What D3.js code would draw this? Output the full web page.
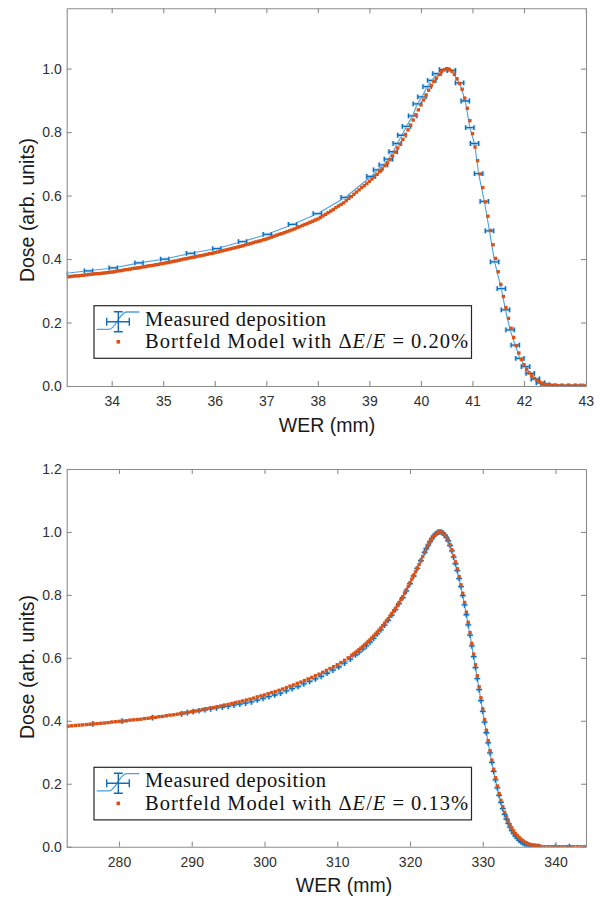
<!DOCTYPE html>
<html lang="en">
<head>
  <meta charset="UTF-8">
  <title>Bragg Peak: Measured vs Bortfeld</title>
  <script src="https://d3js.org/d3.v7.min.js"></script>
  <style>
    html, body { margin: 0; padding: 0; background: #fff; }
    svg { display: block; }
  </style>
</head>
<body>

<script>
"use strict";

/**
 * -----------------------------------------------------------------------
 *  Data
 * -----------------------------------------------------------------------
 */
const TOP_X_TICKS = [34, 35, 36, 37, 38, 39, 40, 41, 42, 43.2];
const TOP_X_LABELS = ["34", "35", "36", "37", "38", "39", "40", "41", "42", "43"];
const TOP_Y_TICKS = [0, 0.2, 0.4, 0.6, 0.8, 1.0];
const BOTTOM_X_TICKS = [280, 290, 300, 310, 320, 330, 340];
const BOTTOM_X_LABELS = ["280", "290", "300", "310", "320", "330", "340"];
const BOTTOM_Y_TICKS = [0, 0.2, 0.4, 0.6, 0.8, 1.0, 1.2];

const X_TITLE = "WER (mm)";
const Y_TITLE = "Dose (arb. units)";
const LEGEND_MEASURED = "Measured deposition";
const LEGEND_MODEL = "Bortfeld Model with ";
const TOP_SPREAD = "0.20%";
const BOTTOM_SPREAD = "0.13%";

// half widths of the error bars (mm, dose)
const TOP_ERR = [0.08, 0];
const BOTTOM_ERR = [0.4, 0.009];

// measured deposition, top panel [WER, dose]
const TOP_MEASURED = [
  [33.05,.354],[33.55,.363],[34.03,.372],[34.53,.388],[35.03,.400],[35.53,.418],
  [36.04,.433],[36.54,.455],[37.02,.478],[37.51,.509],[37.99,.543],[38.53,.594],
  [39.03,.660],[39.16,.681],[39.27,.697],[39.37,.715],[39.46,.738],[39.54,.764],
  [39.63,.790],[39.72,.818],[39.84,.851],[39.93,.889],[40.02,.911],[40.12,.943],
  [40.21,.963],[40.31,.984],[40.44,.997],[40.59,.994],[40.75,.955],[40.86,.898],
  [40.95,.814],[41.04,.764],[41.12,.669],[41.23,.582],[41.33,.489],[41.43,.391],
  [41.56,.307],[41.64,.240],[41.73,.177],[41.83,.129],[41.92,.087],[42.03,.061],
  [42.12,.040],[42.22,.022],[42.32,.010],[42.41,.004],[42.54,.001],[42.67,0],
  [42.80,0],[42.93,0],[43.06,0],[43.17,0],
];

// Bortfeld model, top panel
const TOP_MODEL = [
  [33.15,.344],[33.20,.345],[33.25,.346],[33.30,.347],[33.35,.347],[33.40,.348],[33.45,.349],[33.50,.350],
  [33.55,.351],[33.60,.352],[33.65,.353],[33.70,.354],[33.75,.354],[33.80,.355],[33.85,.356],[33.90,.357],
  [33.95,.358],[34.00,.359],[34.05,.360],[34.10,.362],[34.15,.363],[34.20,.364],[34.25,.366],[34.30,.367],
  [34.35,.368],[34.40,.370],[34.45,.371],[34.50,.372],[34.55,.373],[34.60,.375],[34.65,.376],[34.70,.378],
  [34.75,.379],[34.80,.380],[34.85,.382],[34.90,.383],[34.95,.385],[35.00,.386],[35.05,.388],[35.10,.389],
  [35.15,.391],[35.20,.393],[35.25,.394],[35.30,.396],[35.35,.398],[35.40,.400],[35.45,.401],[35.50,.403],
  [35.55,.405],[35.60,.406],[35.65,.408],[35.70,.410],[35.75,.411],[35.80,.413],[35.85,.415],[35.90,.417],
  [35.95,.418],[36.00,.420],[36.05,.422],[36.10,.424],[36.15,.426],[36.20,.428],[36.25,.430],[36.30,.432],
  [36.35,.434],[36.40,.436],[36.45,.438],[36.50,.440],[36.55,.442],[36.60,.445],[36.65,.447],[36.70,.449],
  [36.75,.452],[36.80,.454],[36.85,.456],[36.90,.458],[36.95,.461],[37.00,.463],[37.05,.466],[37.10,.469],
  [37.15,.472],[37.20,.475],[37.25,.478],[37.30,.480],[37.35,.483],[37.40,.486],[37.45,.489],[37.50,.492],
  [37.55,.495],[37.60,.499],[37.65,.502],[37.70,.506],[37.75,.509],[37.80,.512],[37.85,.516],[37.90,.519],
  [37.95,.523],[38.00,.526],[38.05,.531],[38.10,.536],[38.15,.541],[38.20,.546],[38.25,.551],[38.30,.556],
  [38.35,.562],[38.40,.567],[38.45,.572],[38.50,.577],[38.55,.584],[38.60,.591],[38.65,.597],[38.70,.604],
  [38.75,.611],[38.80,.618],[38.85,.625],[38.90,.631],[38.95,.638],[39.00,.645],[39.05,.652],[39.10,.660],
  [39.15,.667],[39.20,.675],[39.25,.684],[39.30,.694],[39.35,.703],[39.40,.713],[39.45,.725],[39.50,.737],
  [39.55,.750],[39.60,.762],[39.65,.777],[39.70,.792],[39.75,.807],[39.80,.822],[39.85,.838],[39.90,.854],
  [39.95,.870],[40.00,.886],[40.05,.901],[40.10,.917],[40.15,.932],[40.20,.947],[40.25,.959],[40.30,.970],
  [40.35,.981],[40.40,.990],[40.45,.996],[40.50,1.000],[40.55,.998],[40.60,.992],[40.65,.982],[40.70,.968],
  [40.75,.953],[40.80,.935],[40.85,.907],[40.90,.875],[40.95,.836],[41.00,.795],[41.05,.753],[41.10,.710],
  [41.15,.668],[41.20,.625],[41.25,.580],[41.30,.535],[41.35,.490],[41.40,.445],[41.45,.402],[41.50,.360],
  [41.55,.320],[41.60,.282],[41.65,.247],[41.70,.213],[41.75,.182],[41.80,.153],[41.85,.127],[41.90,.104],
  [41.95,.084],[42.00,.067],[42.05,.053],[42.10,.041],[42.15,.032],[42.20,.024],[42.25,.018],[42.30,.013],
  [42.35,.009],[42.40,.006],[42.45,.004],[42.50,.003],[42.55,.002],[42.60,.001],[42.65,.001],[42.70,0],
  [42.75,0],[42.80,0],[42.85,0],[42.90,0],[42.95,0],[43.00,0],[43.05,0],[43.10,0],[43.15,0],[43.20,0],
];

// measured deposition, bottom panel
const BOTTOM_MEASURED = [
  [276.4,.390],[280.4,.399],[284.6,.410],[288.6,.422],[289.4,.426],[290.2,.429],[291.0,.432],
  [291.8,.435],[292.6,.438],[293.4,.441],[294.2,.443],[295.0,.446],[295.8,.450],[296.6,.453],
  [297.4,.456],[298.2,.460],[299.0,.466],[299.8,.471],[300.6,.477],[301.4,.482],[302.2,.488],
  [303.0,.495],[303.8,.502],[304.6,.509],[305.4,.517],[306.2,.525],[307.0,.533],[307.8,.541],
  [308.6,.551],[309.4,.561],[310.2,.571],[311.0,.583],[311.8,.596],[312.5,.609],[313.0,.618],
  [313.5,.628],[314.0,.638],[314.5,.650],[315.0,.662],[315.5,.676],[316.0,.689],[316.5,.704],
  [317.0,.719],[317.5,.736],[318.0,.753],[318.5,.772],[319.0,.791],[319.5,.813],[320.0,.836],
  [320.5,.860],[321.0,.884],[321.5,.909],[322.0,.935],[322.25,.947],[322.5,.958],[322.75,.969],
  [323.0,.979],[323.25,.987],[323.5,.993],[323.75,.998],[324.0,1.000],[324.25,1.000],[324.5,.997],
  [324.75,.991],[325.0,.983],[325.25,.972],[325.5,.957],[325.75,.940],[326.0,.920],[326.25,.899],
  [326.5,.877],[326.75,.852],[327.0,.826],[327.25,.798],[327.5,.768],[327.75,.737],[328.0,.705],
  [328.25,.672],[328.5,.638],[328.75,.604],[329.0,.569],[329.25,.534],[329.5,.499],[329.75,.464],
  [330.0,.430],[330.25,.396],[330.5,.362],[330.75,.330],[331.0,.298],[331.25,.268],[331.5,.239],
  [331.75,.212],[332.0,.187],[332.25,.163],[332.5,.141],[332.75,.121],[333.0,.103],[333.25,.088],
  [333.5,.074],[333.75,.062],[334.0,.051],[334.25,.042],[334.5,.034],[334.75,.027],[335.0,.021],
  [335.25,.016],[335.5,.012],[335.75,.009],[336.0,.007],[336.25,.005],[336.5,.003],[336.75,.002],
  [337.0,.001],[337.25,.001],[337.5,0],[337.75,0],[340.0,0],[341.9,0],
];

// Bortfeld model, bottom panel
const BOTTOM_MODEL = [
  [272.5,.382],[273.0,.383],[273.5,.384],[274.0,.385],[274.5,.386],[275.0,.387],[275.5,.388],[276.0,.389],
  [276.5,.390],[277.0,.391],[277.5,.392],[278.0,.393],[278.5,.394],[279.0,.396],[279.5,.397],[280.0,.398],
  [280.5,.399],[281.0,.400],[281.5,.402],[282.0,.403],[282.5,.404],[283.0,.405],[283.5,.407],[284.0,.408],
  [284.5,.410],[285.0,.411],[285.5,.413],[286.0,.414],[286.5,.416],[287.0,.418],[287.5,.419],[288.0,.421],
  [288.5,.423],[289.0,.425],[289.5,.427],[290.0,.429],[290.5,.431],[291.0,.433],[291.5,.436],[292.0,.438],
  [292.5,.440],[293.0,.442],[293.5,.445],[294.0,.447],[294.5,.450],[295.0,.452],[295.5,.455],[296.0,.458],
  [296.5,.460],[297.0,.463],[297.5,.466],[298.0,.469],[298.5,.472],[299.0,.476],[299.5,.479],[300.0,.482],
  [300.5,.486],[301.0,.490],[301.5,.493],[302.0,.497],[302.5,.501],[303.0,.505],[303.5,.510],[304.0,.514],
  [304.5,.519],[305.0,.523],[305.5,.528],[306.0,.533],[306.5,.538],[307.0,.543],[307.5,.548],[308.0,.554],
  [308.5,.560],[309.0,.566],[309.5,.572],[310.0,.578],[310.5,.585],[311.0,.592],[311.5,.600],[312.0,.608],
  [312.25,.612],[312.5,.617],[312.75,.621],[313.0,.626],[313.25,.631],[313.5,.636],[313.75,.641],[314.0,.646],
  [314.25,.652],[314.5,.657],[314.75,.663],[315.0,.669],[315.25,.675],[315.5,.682],[315.75,.688],[316.0,.695],
  [316.25,.702],[316.5,.710],[316.75,.717],[317.0,.724],[317.25,.732],[317.5,.741],[317.75,.749],[318.0,.757],
  [318.25,.766],[318.5,.776],[318.75,.785],[319.0,.794],[319.25,.805],[319.5,.816],[319.75,.827],[320.0,.838],
  [320.25,.850],[320.5,.862],[320.75,.873],[321.0,.885],[321.25,.897],[321.5,.910],[321.75,.922],[322.0,.935],
  [322.25,.947],[322.5,.958],[322.75,.968],[323.0,.978],[323.25,.986],[323.5,.992],[323.75,.997],[324.0,1.000],
  [324.25,.999],[324.5,.997],[324.75,.992],[325.0,.985],[325.25,.974],[325.5,.960],[325.75,.943],[326.0,.924],
  [326.25,.905],[326.5,.883],[326.75,.858],[327.0,.832],[327.25,.805],[327.5,.776],[327.75,.745],[328.0,.713],
  [328.25,.680],[328.5,.646],[328.75,.612],[329.0,.578],[329.25,.543],[329.5,.508],[329.75,.473],[330.0,.438],
  [330.25,.404],[330.5,.370],[330.75,.337],[331.0,.305],[331.25,.275],[331.5,.246],[331.75,.219],[332.0,.193],
  [332.25,.169],[332.5,.147],[332.75,.127],[333.0,.109],[333.25,.095],[333.5,.082],[333.75,.070],[334.0,.059],
  [334.25,.050],[334.5,.042],[334.75,.035],[335.0,.029],[335.25,.024],[335.5,.019],[335.75,.015],[336.0,.012],
  [336.25,.009],[336.5,.007],[336.75,.005],[337.0,.004],[337.25,.003],[337.5,.002],[337.75,.001],[338.0,.001],
  [338.5,0],[339.0,0],[339.5,0],[340.0,0],[340.5,0],[341.0,0],[341.5,0],[342.0,0],[342.5,0],[343.0,0],
  [343.5,0],[344.0,0],[344.5,0],
];


/**
 * -----------------------------------------------------------------------
 *  Render
 * -----------------------------------------------------------------------
 */
const BLUE = "#0a6fbe";
const BLUE_LINE = "#4aa0e0";
const BLUE_HALO = "#a8d0f0";
const ORANGE = "#d95319";
const AXIS = "#8c8c8c";
const SANS = "'Liberation Sans', Arial, Helvetica, sans-serif";
const SERIF = "'Liberation Serif', 'Times New Roman', serif";

const svg = d3.select("body").append("svg")
    .attr("width", 600)
    .attr("height", 898);

svg.append("rect").attr("width", 600).attr("height", 898).attr("fill", "#fff");

drawPanel({
  id: "top",
  left: 66.7, right: 586, top: 8.3, bottom: 386,
  xDomain: [33.127, 43.203], yDomain: [0, 1.19],
  xTicks: TOP_X_TICKS, xLabels: TOP_X_LABELS, yTicks: TOP_Y_TICKS,
  measured: TOP_MEASURED, model: TOP_MODEL, err: TOP_ERR, caps: true,
  spread: TOP_SPREAD,
  xTitle: [327, 425], yTitle: [27, 210],
  legend: [94, 305.7],
});

drawPanel({
  id: "bottom",
  left: 66.7, right: 586, top: 469, bottom: 846.7,
  xDomain: [272.81, 344.19], yDomain: [0, 1.2],
  xTicks: BOTTOM_X_TICKS, xLabels: BOTTOM_X_LABELS, yTicks: BOTTOM_Y_TICKS,
  measured: BOTTOM_MEASURED, model: BOTTOM_MODEL, err: BOTTOM_ERR, caps: false,
  spread: BOTTOM_SPREAD,
  xTitle: [344, 885], yTitle: [27, 667],
  legend: [94, 767.3],
});


/**
 * -----------------------------------------------------------------------
 *  Function
 * -----------------------------------------------------------------------
 */
function drawPanel (p) {
  const x = d3.scaleLinear().domain(p.xDomain).range([p.left, p.right]);
  const y = d3.scaleLinear().domain(p.yDomain).range([p.bottom, p.top]);
  const g = svg.append("g").attr("class", p.id);

  g.append("clipPath").attr("id", p.id + "-clip")
    .append("rect")
      .attr("x", p.left).attr("y", p.top)
      .attr("width", p.right - p.left).attr("height", p.bottom - p.top);

  const plot = g.append("g").attr("clip-path", `url(#${p.id}-clip)`);

  // measured: connecting line
  plot.append("path").datum(p.measured)
      .attr("fill", "none")
      .attr("stroke", BLUE_LINE)
      .attr("stroke-width", 1.1)
      .attr("d", d3.line().x(d => x(d[0])).y(d => y(d[1])));

  // measured: error bars (halo first, then core)
  const [ex, ey] = p.err;
  [[BLUE_HALO, 3.2], [BLUE, 1.3]].forEach(([color, width]) => {
    const bars = plot.append("g")
        .attr("stroke", color)
        .attr("stroke-width", width)
        .attr("fill", "none")
      .selectAll("path").data(p.measured).join("path")
        .attr("d", d => {
          const cx = x(d[0]), cy = y(d[1]);
          const x0 = x(d[0] - ex), x1 = x(d[0] + ex);
          let s = `M${x0},${cy}H${x1}`;
          if (p.caps) {
            s += `M${x0},${cy - 2.4}V${cy + 2.4}M${x1},${cy - 2.4}V${cy + 2.4}`;
          }
          if (ey) {
            s += `M${cx},${y(d[1] - ey)}V${y(d[1] + ey)}`;
          }
          return s;
        });
    if (color === BLUE_HALO) { bars.attr("opacity", 0.7); }
  });

  // model points
  plot.append("g").attr("fill", ORANGE)
    .selectAll("rect").data(p.model).join("rect")
      .attr("x", d => x(d[0]) - 1.7)
      .attr("y", d => y(d[1]) - 1.7)
      .attr("width", 3.4)
      .attr("height", 3.4);

  // axes, ticks pointing inward on all four sides
  const fmtX = d => p.xLabels[p.xTicks.indexOf(d)];
  const axes = g.append("g");
  axes.append("g").attr("transform", `translate(0,${p.bottom})`)
      .call(d3.axisBottom(x).tickValues(p.xTicks).tickFormat(fmtX)
        .tickSizeInner(-5).tickSizeOuter(0).tickPadding(10));
  axes.append("g").attr("transform", `translate(0,${p.top})`)
      .call(d3.axisTop(x).tickValues(p.xTicks).tickFormat("")
        .tickSizeInner(-5).tickSizeOuter(0));
  axes.append("g").attr("transform", `translate(${p.left},0)`)
      .call(d3.axisLeft(y).tickValues(p.yTicks).tickFormat(d3.format(".1f"))
        .tickSizeInner(-5).tickSizeOuter(0).tickPadding(5));
  axes.append("g").attr("transform", `translate(${p.right},0)`)
      .call(d3.axisRight(y).tickValues(p.yTicks).tickFormat("")
        .tickSizeInner(-5).tickSizeOuter(0));

  axes.selectAll(".domain, .tick line")
      .attr("stroke", AXIS)
      .attr("stroke-width", 1.1);
  axes.selectAll(".tick text")
      .attr("font-family", SANS)
      .attr("font-size", 14)
      .attr("fill", "#303030");

  // axis titles
  g.append("text")
      .attr("x", p.xTitle[0]).attr("y", p.xTitle[1])
      .attr("dy", "0.35em")
      .attr("text-anchor", "middle")
      .attr("font-family", SANS)
      .attr("font-size", 19.5)
      .attr("fill", "#1a1a1a")
      .text(X_TITLE);
  g.append("text")
      .attr("transform", `translate(${p.yTitle[0]},${p.yTitle[1]}) rotate(-90)`)
      .attr("dy", "0.35em")
      .attr("text-anchor", "middle")
      .attr("font-family", SANS)
      .attr("font-size", 19.5)
      .attr("fill", "#1a1a1a")
      .text(Y_TITLE);

  drawLegend(g, p.legend, p.spread);
}

/**
 * Legend box with error-bar icon and model marker
 */
function drawLegend (g, pos, spread) {
  const lg = g.append("g").attr("transform", `translate(${pos[0]},${pos[1]})`);
  lg.append("rect")
      .attr("width", 377.5)
      .attr("height", 52.6)
      .attr("fill", "#fff")
      .attr("stroke", "#262626")
      .attr("stroke-width", 1.2);

  // error-bar icon
  lg.append("path")
      .attr("fill", "none")
      .attr("stroke", BLUE_LINE)
      .attr("stroke-width", 1.3)
      .attr("d", "M2.7,23.6H15C22,23.6 25,6.5 32.7,6.3H45.3");
  lg.append("path")
      .attr("fill", "none")
      .attr("stroke", BLUE)
      .attr("stroke-width", 1.4)
      .attr("d", "M12.7,16H35.3M12.7,12V20M35.3,12V20M24.3,6V26M19.8,6H28.8M19.8,26H28.8");

  lg.append("rect")
      .attr("x", 22.5).attr("y", 34.3)
      .attr("width", 3.6).attr("height", 3.6)
      .attr("fill", ORANGE);

  lg.append("text")
      .attr("x", 51).attr("y", 20)
      .attr("font-family", SERIF)
      .attr("font-size", 20.5)
      .attr("fill", "#111")
      .attr("textLength", 181)
      .text(LEGEND_MEASURED);

  const t = lg.append("text")
      .attr("x", 51).attr("y", 42.6)
      .attr("font-family", SERIF)
      .attr("font-size", 20.5)
      .attr("fill", "#111")
      .attr("textLength", 323);
  t.append("tspan").text(LEGEND_MODEL + "\u0394");
  t.append("tspan").attr("font-style", "italic").text("E");
  t.append("tspan").text("/");
  t.append("tspan").attr("font-style", "italic").text("E");
  t.append("tspan").text(" = " + spread);
}
</script>

</body>
</html>
